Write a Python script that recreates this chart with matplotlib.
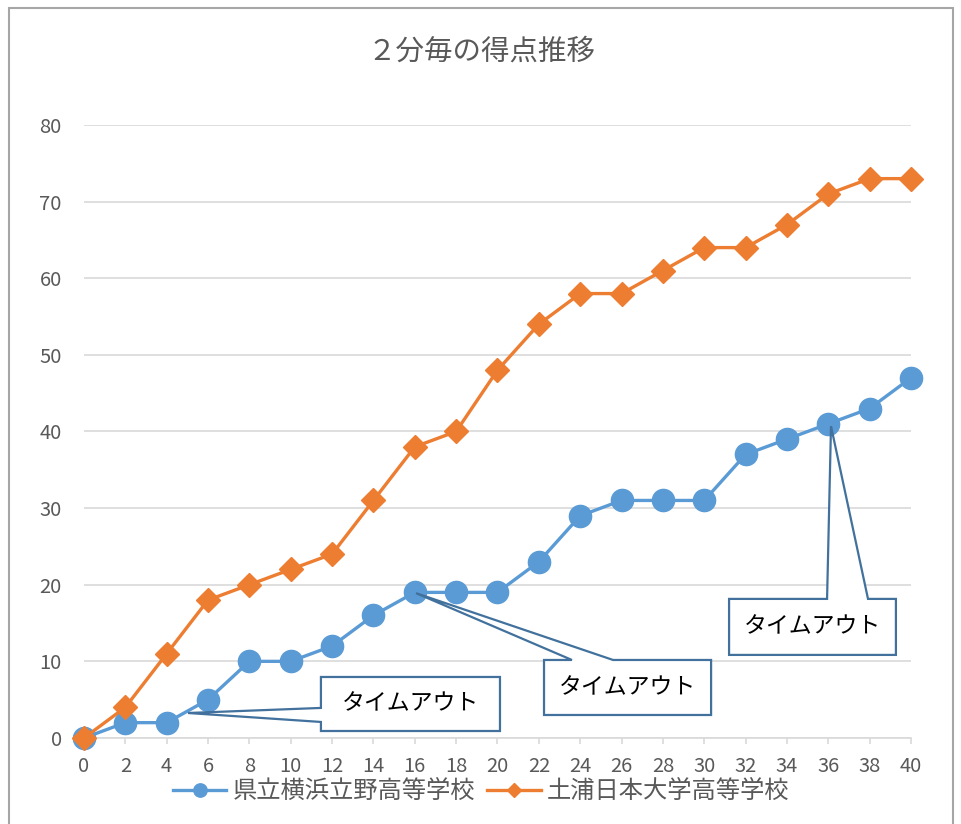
import matplotlib.pyplot as plt
from matplotlib.patches import Polygon, Rectangle

plt.rcParams['font.family'] = ['Noto Sans CJK JP', 'DejaVu Sans']

# data
minutes = [0, 2, 4, 6, 8, 10, 12, 14, 16, 18, 20, 22, 24, 26, 28, 30, 32, 34, 36, 38, 40]
tateno = [0, 2, 2, 5, 10, 10, 12, 16, 19, 19, 19, 23, 29, 31, 31, 31, 37, 39, 41, 43, 47]
tsuchiura = [0, 4, 11, 18, 20, 22, 24, 31, 38, 40, 48, 54, 58, 58, 61, 64, 64, 67, 71, 73, 73]
team_names = ['県立横浜立野高等学校', '土浦日本大学高等学校']
title = '２分毎の得点推移'
callout_text = 'タイムアウト'

blue = '#5B9BD5'
orange = '#ED7D31'
gray_text = '#595959'
grid = '#D9D9D9'
edge = '#41719C'

fig = plt.figure(figsize=(9.62, 8.24), dpi=100)
ax = fig.add_axes([0.0873, 0.1044, 0.8597, 0.7439])

ax.plot(minutes, tateno, color=blue, lw=2.4, marker='o', ms=16, label=team_names[0],
        clip_on=False, zorder=3)
ax.plot(minutes, tsuchiura, color=orange, lw=2.4, marker='D', ms=12, label=team_names[1],
        clip_on=False, zorder=4)

ax.set_xlim(0, 40)
ax.set_ylim(0, 80)
ax.set_xticks(minutes)
ax.set_yticks(range(0, 81, 10))
ax.grid(axis='y', color=grid, lw=1.2)
ax.set_axisbelow(True)
for s in ['top', 'right', 'left']:
    ax.spines[s].set_visible(False)
ax.spines['bottom'].set_color(grid)
ax.spines['bottom'].set_linewidth(1.2)
ax.tick_params(axis='x', length=4, color=grid, width=1.2, pad=9, labelsize=14.5, labelcolor=gray_text)
ax.tick_params(axis='y', length=0, pad=16, labelsize=14.5, labelcolor=gray_text)

fig.suptitle(title, y=0.955, fontsize=20.5, color=gray_text)

# callouts: (box x0, x1, y0, y1), tip, base of wedge
def callout(box, tip, base, side):
    x0, x1, y0, y1 = box
    if side == 'left':
        pts = [(x0, y1), (x1, y1), (x1, y0), (x0, y0), (x0, base[0]), tip, (x0, base[1])]
    else:
        pts = [(x0, y1), (base[0], y1), tip, (base[1], y1), (x1, y1), (x1, y0), (x0, y0)]
    ax.add_patch(Polygon(pts, closed=True, facecolor='white', edgecolor=edge, lw=1.6,
                         clip_on=False, zorder=6))
    ax.text((x0 + x1) / 2, (y0 + y1) / 2, callout_text, ha='center', va='center',
            fontsize=16.5, color='black', zorder=7)

callout((11.46, 20.12, 0.91, 7.96), (5.03, 3.26), (2.09, 3.92), 'left')
callout((22.25, 30.33, 3.0, 10.18), (16.06, 18.9), (23.60, 25.59), 'top')
callout((31.20, 39.27, 10.84, 18.15), (36.13, 40.7), (35.94, 37.92), 'top')

leg = fig.legend(loc='center', bbox_to_anchor=(0.5, 0.04), ncol=2, frameon=False,
                 fontsize=17.5, labelcolor=gray_text, markerscale=0.6,
                 handlelength=2.2, columnspacing=0.5, handletextpad=0.25)

fig.add_artist(Rectangle((9 / 962, -0.02), (953 - 9) / 962, 1 - 8 / 824 + 0.02,
                         transform=fig.transFigure, fill=False, edgecolor='#A6A6A6', lw=1.5))

fig.savefig('out.png', dpi=100)
